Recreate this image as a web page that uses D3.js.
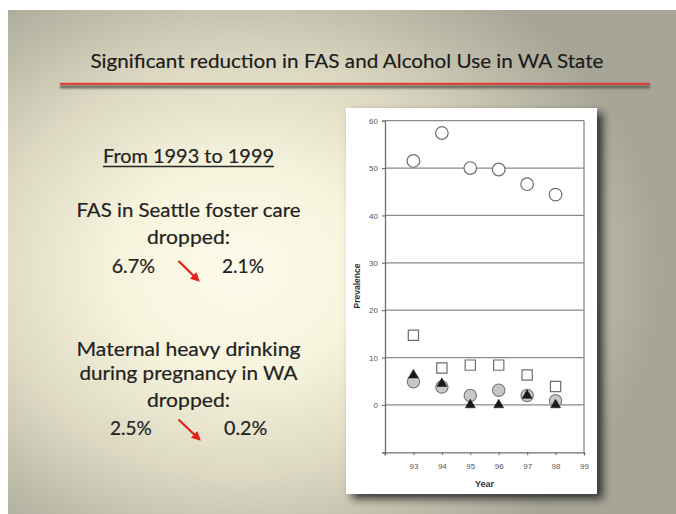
<!DOCTYPE html>
<html>
<head>
<meta charset="utf-8">
<script src="https://cdn.jsdelivr.net/npm/d3@7/dist/d3.min.js"></script>
<style>
  html, body { margin: 0; padding: 0; background: #ffffff; }
  svg { display: block; }
</style>
</head>
<body>
<svg id="chart" width="676" height="514"></svg>
<script>
// ---------------- data ----------------
const years = [93, 94, 95, 96, 97, 98];
const xTickValues = [92, 93, 94, 95, 96, 97, 98, 99];
const yTickValues = [-10, 0, 10, 20, 30, 40, 50, 60];
const openCircleSeries = [51.5, 57.4, 50.0, 49.7, 46.6, 44.4];
const squareSeries = [14.7, 7.8, 8.4, 8.4, 6.3, 3.9];
const grayCircleSeries = [4.9, 3.8, 2.0, 3.1, 2.0, 0.9];
const triangleSeries = [6.3, 4.5, 0.0, 0.0, 2.0, 0.0];

const titleText = "Significant reduction in FAS and Alcohol Use in WA State";
const headingText = "From 1993 to 1999";
const block1Lines = ["FAS in Seattle foster care", "dropped:"];
const block1Values = ["6.7%", "2.1%"];
const block2Lines = ["Maternal heavy drinking", "during pregnancy in WA", "dropped:"];
const block2Values = ["2.5%", "0.2%"];
const xAxisTitle = "Year";
const yAxisTitle = "Prevalence";

// ---------------- drawing ----------------
const svg = d3.select("#chart");
const defs = svg.append("defs");

const bg = defs.append("radialGradient")
  .attr("id", "bgGrad")
  .attr("gradientUnits", "userSpaceOnUse")
  .attr("cx", 240).attr("cy", 270).attr("r", 420)
  .attr("gradientTransform", "translate(240,270) scale(1,0.82) translate(-240,-270)");
[[0, "#fdfbeb"], [0.3, "#f7f4dd"], [0.6, "#dcd8c2"], [0.85, "#b9b7a5"], [1, "#a7a696"]]
  .forEach(([o, c]) => bg.append("stop").attr("offset", o).attr("stop-color", c));

const shadow = defs.append("filter").attr("id", "shadow")
  .attr("x", "-10%").attr("y", "-10%").attr("width", "130%").attr("height", "130%");
shadow.append("feDropShadow").attr("dx", 6).attr("dy", 5).attr("stdDeviation", 4.5)
  .attr("flood-color", "#22221a").attr("flood-opacity", 0.85);

const lineBlur = defs.append("filter").attr("id", "lineBlur")
  .attr("filterUnits", "userSpaceOnUse")
  .attr("x", 40).attr("y", 75).attr("width", 630).attr("height", 25);
lineBlur.append("feGaussianBlur").attr("stdDeviation", 0.9);

defs.append("marker").attr("id", "arrowHead")
  .attr("viewBox", "0 0 10 10").attr("refX", 8).attr("refY", 5)
  .attr("markerWidth", 4.2).attr("markerHeight", 4.2).attr("orient", "auto")
  .append("path").attr("d", "M0,0 L10,5 L0,10 z").attr("fill", "#e5201b");

// slide background
svg.append("rect").attr("x", 8).attr("y", 10).attr("width", 668).attr("height", 504)
  .attr("fill", "url(#bgGrad)");

// title
const fontMain = "Lato, 'Open Sans', 'DejaVu Sans', sans-serif";
svg.append("text").attr("x", 347).attr("y", 68)
  .attr("text-anchor", "middle")
  .attr("font-family", fontMain).attr("font-size", 18.5)
  .attr("fill", "#1a1a1a").attr("stroke", "#1a1a1a").attr("stroke-width", 0.15)
  .attr("textLength", 513).attr("lengthAdjust", "spacingAndGlyphs")
  .text(titleText);

// title rule (shadow + red line)
svg.append("rect").attr("x", 60).attr("y", 85.3).attr("width", 590).attr("height", 3)
  .attr("fill", "#5f6252").attr("filter", "url(#lineBlur)");
svg.append("rect").attr("x", 60).attr("y", 82.8).attr("width", 590).attr("height", 2)
  .attr("fill", "#e23a33");

// left text
const leftG = svg.append("g").attr("font-family", fontMain).attr("fill", "#222")
  .attr("stroke", "#222").attr("stroke-width", 0.2)
  .attr("font-size", 19.5);
const cx = 188.5;
leftG.append("text").attr("x", cx).attr("y", 163).attr("text-anchor", "middle")
  .attr("textLength", 171).attr("lengthAdjust", "spacingAndGlyphs").text(headingText);
leftG.append("line").attr("x1", 103).attr("x2", 274).attr("y1", 166.5).attr("y2", 166.5)
  .attr("stroke", "#262626").attr("stroke-width", 1.3);

const block1Y = [217, 243.5];
const block1W = [224, 83];
block1Lines.forEach((t, i) => {
  leftG.append("text").attr("x", cx).attr("y", block1Y[i]).attr("text-anchor", "middle")
    .attr("textLength", block1W[i]).attr("lengthAdjust", "spacingAndGlyphs").text(t);
});
leftG.append("text").attr("x", 111.7).attr("y", 272.5).attr("textLength", 43.3)
  .attr("lengthAdjust", "spacingAndGlyphs").text(block1Values[0]);
leftG.append("text").attr("x", 222).attr("y", 272.5).attr("textLength", 42)
  .attr("lengthAdjust", "spacingAndGlyphs").text(block1Values[1]);

const block2Y = [356, 380, 407.3];
const block2W = [224, 218, 83];
block2Lines.forEach((t, i) => {
  leftG.append("text").attr("x", cx).attr("y", block2Y[i]).attr("text-anchor", "middle")
    .attr("textLength", block2W[i]).attr("lengthAdjust", "spacingAndGlyphs").text(t);
});
leftG.append("text").attr("x", 110).attr("y", 435).attr("textLength", 41.7)
  .attr("lengthAdjust", "spacingAndGlyphs").text(block2Values[0]);
leftG.append("text").attr("x", 224).attr("y", 435).attr("textLength", 43.3)
  .attr("lengthAdjust", "spacingAndGlyphs").text(block2Values[1]);

// red arrows
[[178.5, 261, 200.5, 282.5], [178.5, 419.5, 201.5, 441.5]].forEach(([x1, y1, x2, y2]) => {
  svg.append("line").attr("x1", x1).attr("y1", y1).attr("x2", x2 - 2).attr("y2", y2 - 2)
    .attr("stroke", "#e5201b").attr("stroke-width", 2.2)
    .attr("marker-end", "url(#arrowHead)");
});

// chart panel
svg.append("rect").attr("x", 346).attr("y", 108).attr("width", 251).attr("height", 386)
  .attr("fill", "#ffffff").attr("filter", "url(#shadow)");

const x = d3.scaleLinear().domain([92, 99]).range([385, 584]);
const y = d3.scaleLinear().domain([-10, 60]).range([452.3, 120.7]);

const plot = svg.append("g");
const gridColor = "#8a8a8a";

// horizontal grid lines (0..60)
plot.append("g").selectAll("line")
  .data(yTickValues.filter(v => v >= 0))
  .join("line")
  .attr("x1", x(92)).attr("x2", x(99))
  .attr("y1", d => y(d)).attr("y2", d => y(d))
  .attr("stroke", gridColor).attr("stroke-width", 1.3);

// right frame line
plot.append("line").attr("x1", x(99)).attr("x2", x(99))
  .attr("y1", y(-10)).attr("y2", y(60))
  .attr("stroke", gridColor).attr("stroke-width", 1.3);

// axes
const axisFont = "'Liberation Sans', Arial, sans-serif";
const yAxis = plot.append("g").attr("transform", `translate(${x(92)},0)`)
  .call(d3.axisLeft(y).tickValues(yTickValues).tickSize(3).tickPadding(4)
    .tickFormat(d => d === -10 ? "" : d));
const xAxis = plot.append("g").attr("transform", `translate(0,${y(-10)})`)
  .call(d3.axisBottom(x).tickValues(xTickValues).tickSize(3).tickPadding(8)
    .tickFormat(d => d === 92 ? "" : d));
[yAxis, xAxis].forEach(a => {
  a.select(".domain").attr("stroke", "#6e6e6e").attr("stroke-width", 1.3);
  a.selectAll(".tick line").attr("stroke", "#6e6e6e").attr("stroke-width", 1.1);
  a.selectAll(".tick text").attr("font-family", axisFont).attr("font-size", 8)
    .attr("fill", "#555");
});
// small downward tick at the left corner
plot.append("line").attr("x1", x(92)).attr("x2", x(92)).attr("y1", y(-10)).attr("y2", y(-10) + 3)
  .attr("stroke", "#6e6e6e").attr("stroke-width", 1.1);

plot.append("text").attr("x", (x(92) + x(99)) / 2).attr("y", 487)
  .attr("text-anchor", "middle").attr("font-family", axisFont)
  .attr("font-weight", "bold").attr("font-size", 9).attr("fill", "#333")
  .text(xAxisTitle);
plot.append("text")
  .attr("transform", `translate(360,286) rotate(-90)`)
  .attr("text-anchor", "middle").attr("font-family", axisFont)
  .attr("font-weight", "bold").attr("font-size", 8.5).attr("fill", "#333")
  .text(yAxisTitle);

// marks
function drawSeries(values, type, size, fill, stroke, sw) {
  plot.append("g").selectAll("path")
    .data(years.map((yr, i) => ({ yr, v: values[i] })))
    .join("path")
    .attr("transform", d => `translate(${x(d.yr)},${y(d.v)})`)
    .attr("d", d3.symbol().type(type).size(size)())
    .attr("fill", fill).attr("stroke", stroke).attr("stroke-width", sw);
}
drawSeries(openCircleSeries, d3.symbolCircle, 125, "#ffffff", "#6e6e6e", 1.2);
drawSeries(squareSeries, d3.symbolSquare, 105, "#ffffff", "#6e6e6e", 1.2);
drawSeries(grayCircleSeries, d3.symbolCircle, 120, "#c8c8c8", "#777777", 1.1);
drawSeries(triangleSeries, d3.symbolTriangle, 42, "#1a1a1a", "#1a1a1a", 0.6);
</script>
</body>
</html>
